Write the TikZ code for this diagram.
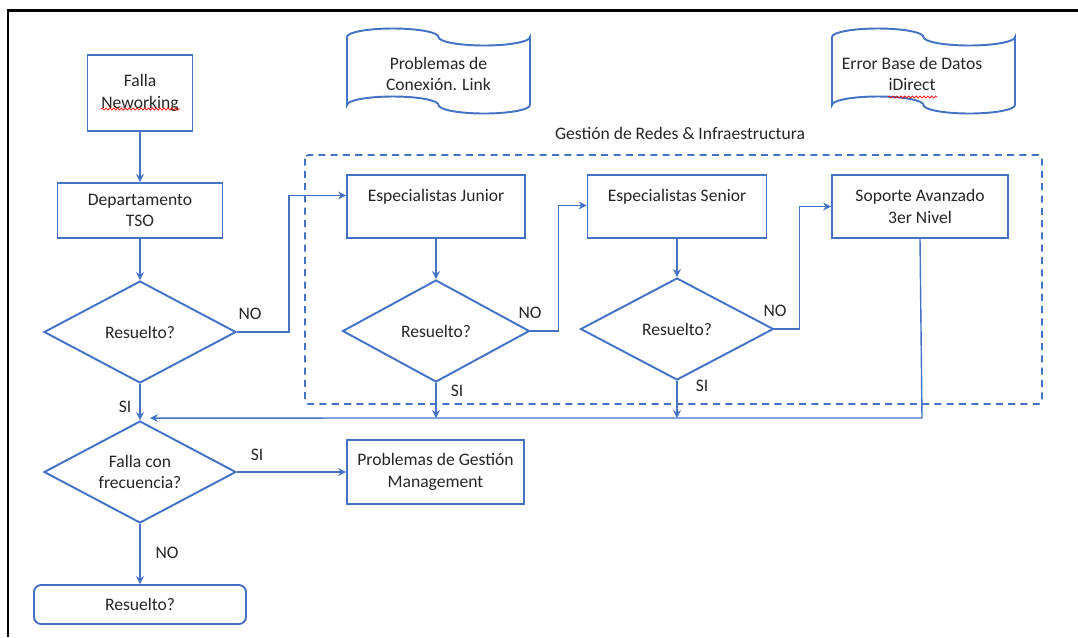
\documentclass[tikz,border=0pt]{standalone}
\usepackage{fontspec}
\setmainfont{Carlito}
\usetikzlibrary{arrows.meta,shapes.geometric,calc,decorations.pathmorphing}
\definecolor{wordblue}{RGB}{68,114,196}
\tikzset{
    box/.style = {
        draw = wordblue,
        line width = 1.1pt,
        align = center,
        inner sep = 2pt,
        },
    decision/.style = {
        diamond,
        aspect = 2,
        draw = wordblue,
        line width = 1.1pt,
        align = center,
        inner sep = 0pt,
        },
    tape/.style = {
        align = center,
        },
    conn/.style = {
        draw = wordblue,
        line width = 0.8pt,
        -{Stealth[length=4.5pt, width=4.5pt]},
        },
    group/.style = {
        draw = wordblue,
        line width = 1pt,
        dash pattern = on 4pt off 3pt,
        rounded corners = 2pt,
        },
    spell/.style = {
        draw = red,
        line width = 0.4pt,
        decorate,
        decoration = {snake, amplitude=0.6pt, segment length=2.2pt},
        },
}
% punched tape drawn round a node, #2 = offset of the shape from the text
\newcommand\tapeshape[2]{%
    \draw[wordblue, line width=1.1pt, shift={($(#1.center)+#2$)}]
        (-91.5,-34) arc[start angle=180, end angle=360, x radius=45.75, y radius=8.5]
        arc[start angle=180, end angle=0, x radius=45.75, y radius=8.5]
        -- (91.5,34)
        arc[start angle=0, end angle=180, x radius=45.75, y radius=8.5]
        arc[start angle=0, end angle=-180, x radius=45.75, y radius=8.5]
        -- cycle;
}

\begin{document}
\begin{tikzpicture}[
        x = 0.02cm, y = -0.02cm,
        every node/.style = {font=\fontsize{10}{12.4}\selectfont, text=black!85},
    ]
    \useasboundingbox (0,0) rectangle (1078,637);
    \draw[line width=1.7pt] (8,637) -- (8,10) -- (1078,10);

    % documents on top
    \node[tape] (link) at (438.5,74) {Problemas de\\Conexión. Link};
    \tapeshape{link}{(0,-3)}
    \node[tape] (idb) at (912,74) {Error Base de Datos\\iDirect};
    \tapeshape{idb}{(11.5,-3)}
    \draw[spell] ($(idb.center)+(-24,23)$) -- ++(49,0);

    % group
    \draw[group] (305,155) rectangle (1042,404);
    \node (grptitle) at (680,133) {Gestión de Redes \& Infraestructura};

    % nodes
    \node[box, minimum width=2.1cm, minimum height=1.52cm] (falla) at (140,93) {Falla\\Neworking};
    \draw[spell] ($(falla.center)+(-39,16)$) -- ++(79,0);
    \node[box, minimum width=3.3cm, minimum height=1.1cm] (tso) at (140,210.5) {Departamento\\TSO};
    \node[decision, minimum width=3.84cm, minimum height=2.04cm] (res0) at (140,332) {Resuelto?};

    \node[box, minimum width=3.56cm, minimum height=1.26cm] (junior) at (436,206.5) {Especialistas Junior\\\mbox{}};
    \node[box, minimum width=3.58cm, minimum height=1.26cm] (senior) at (677,206.5) {Especialistas Senior\\\mbox{}};
    \node[box, minimum width=3.52cm, minimum height=1.26cm] (nivel3) at (920,206.5) {Soporte Avanzado\\3er Nivel};
    \node[decision, minimum width=3.74cm, minimum height=2.04cm] (res1) at (436,331) {Resuelto?};
    \node[decision, minimum width=3.86cm, minimum height=2.04cm] (res2) at (677,329) {Resuelto?};

    \node[decision, minimum width=3.84cm, minimum height=2.04cm] (freq) at (140,472) {Falla con\\frecuencia?};
    \node[box, minimum width=3.54cm, minimum height=1.28cm] (gestion) at (435.5,472) {Problemas de Gestión\\Management};
    \node[box, rounded corners=4pt, minimum width=4.24cm, minimum height=0.78cm] (fin) at (140,604.5) {Resuelto?};

    \coordinate (merge) at (922,418);

    % connectors
    \draw[conn] (falla) -- (tso);
    \draw[conn] (tso) -- (res0);
    \draw[conn] (res0.east) -- ++(52,0) |- ($(junior.west)+(0,-11)$);
    \draw[conn] (junior) -- (res1);
    \draw[conn] (res1.east) -- ++(28,0) |- ($(senior.west)+(0,-1)$);
    \draw[conn] (senior) -- (res2);
    \draw[conn] (res2.east) -- ++(25,0) |- (nivel3.west);
    \draw[conn] (res0) -- (freq);
    \draw[conn] (res1.south) -- (res1.south |- merge);
    \draw[conn] (res2.south) -- (res2.south |- merge);
    \draw[conn] (nivel3.south) -- (merge) -- ($(freq.north)+(10,-2)$);
    \draw[conn] (freq.east) -- (gestion.west);
    \draw[conn] (freq) -- (fin);

    % answers
    \node (no0) at (250,314) {NO};
    \node (si0) at (125,407) {SI};
    \node (no1) at (530,313) {NO};
    \node (si1) at (457,391) {SI};
    \node (no2) at (775,311) {NO};
    \node (si2) at (702,386) {SI};
    \node (si3) at (257,455) {SI};
    \node (no3) at (167,553) {NO};
\end{tikzpicture}
\end{document}
